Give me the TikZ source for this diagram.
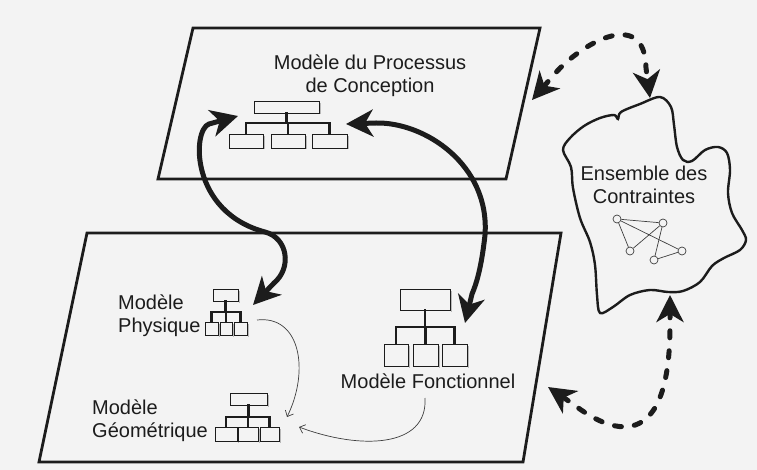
\documentclass[tikz,border=0pt]{standalone}
\usepackage{fontspec}
\setmainfont{Liberation Sans}
\usetikzlibrary{arrows.meta}

\definecolor{paper}{RGB}{243,243,243}
\definecolor{ink}{RGB}{28,28,28}

% small organisation chart: top box, bar, three lower boxes
% #1,#2 top box x-range; #3,#4 top box y-range; #5 bar y;
% #6,#7 lower boxes y-range; #8 lower boxes as l/r pairs
\newcommand\orgchart[8]{%
  \pgfmathsetmacro\orgmid{(#1+#2)/2}%
  \draw[orgshadow] (#2+1.8,#3+2) -- (#2+1.8,#4+1.5);
  \draw[orgbox] (#1,#3) rectangle (#2,#4);
  \draw[orgstem] (\orgmid,#4) -- (\orgmid,#5);
  \foreach \l/\r in {#8}{%
    \pgfmathsetmacro\orgc{(\l+\r)/2}%
    \draw[orgstem] (\orgmid,#5) -- (\orgc,#5) -- (\orgc,#6);
    \draw[orgshadow] (\r+1.8,#6+2) -- (\r+1.8,#7+1.5);
    \draw[orgbox] (\l,#6) rectangle (\r,#7);
  }%
}

\begin{document}
\begin{tikzpicture}[x=1pt,y=-1pt,
  frame/.style={draw=ink, line width=2.8pt, line join=miter},
  cloudline/.style={draw=ink, line width=2.4pt},
  orgbox/.style={draw=ink, line width=0.8pt},
  orgstem/.style={draw=ink, line width=2.4pt, line cap=rect},
  orgshadow/.style={draw=gray!55, line width=1.2pt},
  bigtip/.style={arrows={Stealth[length=27pt,width=27pt,inset=8pt]-Stealth[length=27pt,width=27pt,inset=8pt]}},
  bigarrow/.style={draw=ink, line width=5pt, bigtip},
  dasharrow/.style={draw=ink, line width=5pt, line cap=round,
    dash pattern=on 7pt off 13pt, bigtip},
  thinarrow/.style={draw=ink!85, line width=0.7pt, -{Straight Barb[length=5pt,width=9pt]}},
  label/.style={font=\fontsize{20}{23}\selectfont, text=ink, inner sep=0pt},
  dot/.style={circle, draw=ink!85, line width=0.7pt, minimum size=8pt, inner sep=0pt},
  link/.style={draw=ink!85, line width=0.7pt}
]
\fill[paper] (0,0) rectangle (757,470);
\useasboundingbox (0,0) rectangle (757,470);

% the two model planes
\draw[frame] (193,28) -- (540,28) -- (506,179) -- (158,179) -- cycle;
\draw[frame] (87,233) -- (561,233) -- (523,462) -- (39,462) -- cycle;

% constraint cloud
\draw[cloudline] plot[smooth cycle, tension=0.55] coordinates {
  (563,150) (570,138) (584,126) (600,118) (614,115) (618,119) (621,112)
  (640,104) (660,97) (671,107) (674,125) (677,147) (683,160) (692,161)
  (705,150) (718,147) (727,153) (730,170) (728,193) (732,213) (742,230)
  (746,240) (740,250) (724,258) (712,266) (700,282) (683,291) (668,292)
  (650,290) (630,295) (613,307) (600,313) (597,295) (595,265) (590,242)
  (580,218) (573,188) (571,167)};

% labels (base anchor = baseline of the last line)
\node[label, align=center, anchor=base] (proc) at (370,93) {Modèle du Processus\\de Conception};
\node[label, align=center, anchor=base] (cons) at (644,204) {Ensemble des\\Contraintes};
\node[label, align=left, anchor=base west] (phys) at (118,332) {Modèle\\Physique};
\node[label, align=left, anchor=base west] (geom) at (92,437) {Modèle\\Géométrique};
\node[label, anchor=base] (fonc) at (428,388) {Modèle Fonctionnel};

% organisation charts
\orgchart{254}{319}{101}{113}{123}{134}{148}{229/263,271/305,312/347}
\orgchart{400}{450}{289}{310}{327}{344}{366}{384/408,413/438,442/467}
\orgchart{213}{238}{289}{301}{312}{322}{335}{205/218,220/232,234/247}
\orgchart{230}{267}{393}{405}{417}{427}{441}{215/237,238/258,260/279}

% constraint network
\node[dot] (n1) at (617,219) {};
\node[dot] (n2) at (663,223) {};
\node[dot] (n3) at (630,251) {};
\node[dot] (n4) at (682,251) {};
\node[dot] (n5) at (654,260) {};
\draw[link] (n1) -- (n2);
\draw[link] (n1) -- (n3);
\draw[link] (n1) -- (n4);
\draw[link] (n2) -- (n3);
\draw[link] (n2) -- (n5);
\draw[link] (n5) -- (n4);

% arrow end points
\coordinate (pcL) at (238,116);
\coordinate (pcR) at (346,124);
\coordinate (phyIn) at (253,305);
\coordinate (fonIn) at (465,323);
\coordinate (procEdge) at (532,100);
\coordinate (cloudTop) at (650,98);
\coordinate (cloudBot) at (670,295);
\coordinate (baseEdge) at (548,387);
\coordinate (phyOut) at (257,320);
\coordinate (geoTop) at (287,417);
\coordinate (fonOut) at (425,398);
\coordinate (geoSide) at (299,427);

% exchanges between the planes (straight run under each head sets its direction)
\draw[bigarrow] (pcL) -- (209,124) .. controls (192,130) and (190,212) .. (265,232)
  .. controls (288,238) and (292,268) .. (274,283) -- (phyIn);
\draw[bigarrow] (pcR) -- (376,123) .. controls (425,122) and (490,165) .. (485,235)
  .. controls (482,262) and (478,280) .. (472,294) -- (fonIn);

% exchanges with the constraints
\draw[dasharrow] (procEdge) -- (552,77) .. controls (578,45) and (645,5) .. (646,68) -- (cloudTop);
\draw[dasharrow] (baseEdge) -- (573,404) .. controls (600,425) and (670,468) .. (670,325) -- (cloudBot);

% links inside the product plane
\draw[thinarrow] (phyOut) .. controls (300,315) and (310,370) .. (geoTop);
\draw[thinarrow] (fonOut) .. controls (428,448) and (360,450) .. (geoSide);
\end{tikzpicture}
\end{document}
